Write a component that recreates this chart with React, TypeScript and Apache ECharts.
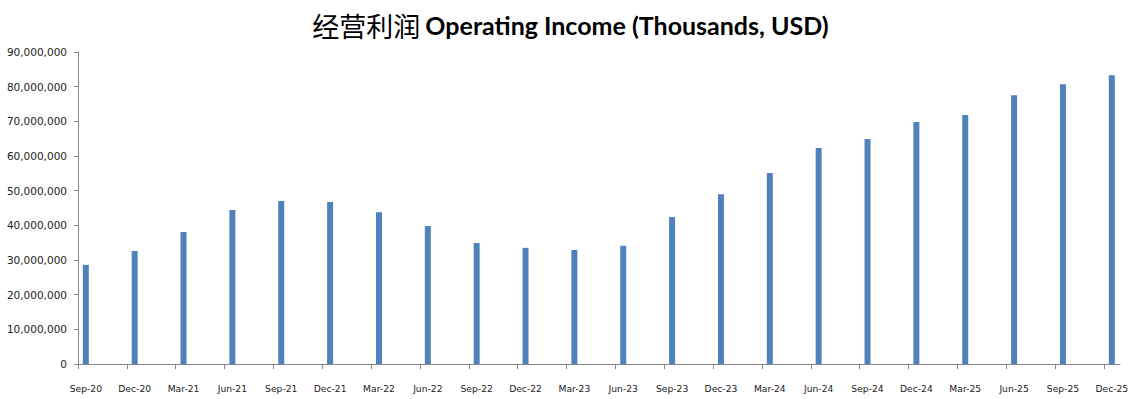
import React, { useEffect, useRef } from 'react';
import * as echarts from 'echarts';

const categories: string[] = [
  'Sep-20', 'Dec-20', 'Mar-21', 'Jun-21', 'Sep-21', 'Dec-21', 'Mar-22', 'Jun-22',
  'Sep-22', 'Dec-22', 'Mar-23', 'Jun-23', 'Sep-23', 'Dec-23', 'Mar-24', 'Jun-24',
  'Sep-24', 'Dec-24', 'Mar-25', 'Jun-25', 'Sep-25', 'Dec-25',
];

const operatingIncome: number[] = [
  28600000, 32600000, 38100000, 44400000, 47000000, 46700000, 43800000, 39800000,
  34900000, 33500000, 32900000, 34100000, 42400000, 49000000, 55100000, 62300000,
  64900000, 69800000, 71800000, 77500000, 80700000, 83300000,
];

const yTicks: number[] = [0, 10000000, 20000000, 30000000, 40000000, 50000000, 60000000, 70000000, 80000000, 90000000];

const TICK_OFFSET = 0.16;

export default function App() {
  const ref = useRef<HTMLDivElement>(null);
  useEffect(() => {
    document.body.style.margin = '0';
    if (!ref.current) return;
    const chart = echarts.init(ref.current, undefined, { renderer: 'svg' });
    const xMin = -TICK_OFFSET;
    const gridW = 1141 - 78 - 21;
    const xMax = xMin + gridW / 48.857;
    chart.setOption({
      animation: false,
      backgroundColor: '#ffffff',
      title: {
        text: '{cn|经营利润} {en|Operating Income (Thousands, USD)}',
        left: 'center',
        top: 3,
        textStyle: {
          rich: {
            cn: { fontFamily: 'Noto Sans CJK SC', fontWeight: 'normal', fontSize: 27, color: '#000', lineHeight: 34 },
            en: { fontFamily: 'Lato', fontWeight: 'bold', fontSize: 25, color: '#000', lineHeight: 34 },
          },
        },
      },
      grid: { left: 78, right: 21, top: 52, bottom: 35, containLabel: false },
      xAxis: {
        type: 'value',
        min: xMin,
        max: xMax,
        splitLine: { show: false },
        axisLine: { show: true, onZero: false, lineStyle: { color: '#868686', width: 1 } },
        axisTick: {
          show: true,
          length: 5,
          lineStyle: { color: '#868686', width: 1 },
          customValues: categories.map((_, i) => i - TICK_OFFSET),
        },
        axisLabel: {
          customValues: categories.map((_, i) => i),
          formatter: (v: number) => categories[Math.round(v)] ?? '',
          margin: 20,
          fontFamily: 'DejaVu Sans',
          fontSize: 9.2,
          color: '#222',
        },
      },
      yAxis: {
        type: 'value',
        min: yTicks[0],
        max: yTicks[yTicks.length - 1],
        interval: yTicks[1] - yTicks[0],
        splitLine: { show: false },
        axisLine: { show: true, onZero: false, lineStyle: { color: '#868686', width: 1 } },
        axisTick: { show: true, length: 4, lineStyle: { color: '#868686' } },
        axisLabel: {
          formatter: (v: number) => v.toLocaleString('en-US'),
          margin: 11,
          fontFamily: 'DejaVu Sans',
          fontSize: 10.5,
          color: '#222',
        },
      },
      series: [
        {
          type: 'bar',
          barWidth: 6,
          itemStyle: { color: '#4F81BD' },
          data: operatingIncome.map((v, i) => [i, v]),
        },
      ],
    });
    return () => chart.dispose();
  }, []);
  return (
    <div
      ref={ref}
      style={{ position: 'fixed', left: 0, top: 0, width: 1141, height: 399 }}
    />
  );
}
